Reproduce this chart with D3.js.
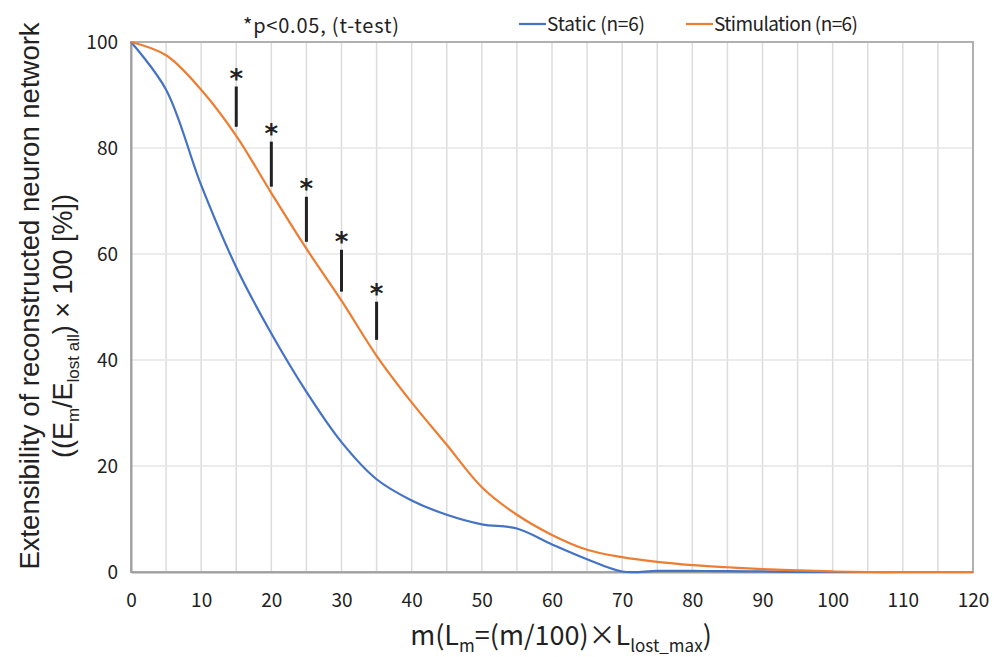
<!DOCTYPE html>
<html lang="en">
	<head>
		<meta charset="utf-8">
		<title>Extensibility chart</title>
		<script type="text/javascript" src="https://cdn.jsdelivr.net/npm/d3@7"></script>
		<style>
			body { margin: 0; background: #fff; }
			text { fill: #222; }
		</style>
	</head>
	<body>
		<script type="text/javascript">

			var w = 994;
			var h = 657;
			var margin = {left: 131, right: 21, top: 42, bottom: 85};

			// m values (x) and the two series
			var mValues = [0, 5, 10, 15, 20, 25, 30, 35, 40, 45, 50, 55, 60, 65, 70, 75, 80, 85, 90, 95, 100, 105, 110, 115, 120];
			var staticValues = [100, 91, 73, 57.5, 45, 34, 24.5, 17.5, 13.5, 10.8, 9, 8.2, 5.2, 2.4, 0.1, 0.2, 0.2, 0.15, 0.1, 0, 0, 0, 0, 0, 0];
			var stimValues = [100, 97.5, 91, 82.3, 71.5, 61, 51.2, 40.8, 32, 24, 16, 10.8, 7, 4.2, 2.8, 1.9, 1.3, 0.9, 0.55, 0.3, 0.1, 0, 0, 0, 0];

			// significance marks
			var sigM = [15, 20, 25, 30, 35];
			var sigLow = [84, 72.7, 62.3, 52.9, 43.8];
			var sigHigh = [91.6, 81.2, 70.8, 60.8, 51];

			var xTicks = d3.range(0, 121, 10);
			var xGrid = d3.range(5, 121, 5);
			var yTicks = [0, 20, 40, 60, 80, 100];

			var seriesNames = ["Static (n=6)", "Stimulation (n=6)"];
			var seriesColors = ["#4472C4", "#ED7D31"];

			var xScale = d3.scaleLinear()
						   .domain([0, 120])
						   .range([margin.left, w - margin.right]);

			var yScale = d3.scaleLinear()
						   .domain([0, 100])
						   .range([h - margin.bottom, margin.top]);

			var svg = d3.select("body")
						.append("svg")
						.attr("width", w)
						.attr("height", h);

			var font = "'Noto Sans CJK JP', 'Noto Sans', sans-serif";
			var titleFont = "'Liberation Sans', Arial, sans-serif";

			// gridlines
			svg.append("g")
			   .selectAll("line")
			   .data(xGrid)
			   .enter()
			   .append("line")
			   .attr("x1", function(d) { return xScale(d); })
			   .attr("x2", function(d) { return xScale(d); })
			   .attr("y1", yScale(0))
			   .attr("y2", yScale(100))
			   .attr("stroke", "#dcdcdc")
			   .attr("stroke-width", 1.5);

			svg.append("g")
			   .selectAll("line")
			   .data(yTicks.slice(1, 5))
			   .enter()
			   .append("line")
			   .attr("x1", xScale(0))
			   .attr("x2", xScale(120))
			   .attr("y1", function(d) { return yScale(d); })
			   .attr("y2", function(d) { return yScale(d); })
			   .attr("stroke", "#e6e6e6")
			   .attr("stroke-width", 1.5);

			// frame
			svg.append("rect")
			   .attr("x", xScale(0))
			   .attr("y", yScale(100))
			   .attr("width", xScale(120) - xScale(0))
			   .attr("height", yScale(0) - yScale(100))
			   .attr("fill", "none")
			   .attr("stroke", "#b0b0b0")
			   .attr("stroke-width", 2);

			// axes
			var xAxis = d3.axisBottom(xScale).tickValues(xTicks).tickSize(0).tickPadding(22);
			var yAxis = d3.axisLeft(yScale).tickValues(yTicks).tickSize(0).tickPadding(13);

			var gx = svg.append("g")
			   .attr("transform", "translate(0," + yScale(0) + ")")
			   .call(xAxis);
			var gy = svg.append("g")
			   .attr("transform", "translate(" + xScale(0) + ",0)")
			   .call(yAxis);

			[gx, gy].forEach(function(g) {
				g.select(".domain").attr("stroke", "#a0a0a0").attr("stroke-width", 2);
				g.selectAll("text")
				 .attr("font-family", font)
				 .attr("font-size", "19px")
				 .attr("fill", "#222");
			});

			// lines
			var line = d3.line()
						 .x(function(d) { return xScale(d[0]); })
						 .y(function(d) { return yScale(d[1]); })
						 .curve(d3.curveCatmullRom.alpha(0.5));

			var series = [staticValues, stimValues];
			series.forEach(function(vals, k) {
				svg.append("path")
				   .datum(mValues.map(function(m, i) { return [m, vals[i]]; }))
				   .attr("d", line)
				   .attr("fill", "none")
				   .attr("stroke", seriesColors[k])
				   .attr("stroke-width", 2.2);
			});

			// significance bars and stars
			svg.selectAll(".sig")
			   .data(sigM)
			   .enter()
			   .append("line")
			   .attr("class", "sig")
			   .attr("x1", function(d) { return xScale(d); })
			   .attr("x2", function(d) { return xScale(d); })
			   .attr("y1", function(d, i) { return yScale(sigLow[i]); })
			   .attr("y2", function(d, i) { return yScale(sigHigh[i]); })
			   .attr("stroke", "#222")
			   .attr("stroke-width", 3);

			svg.selectAll(".star")
			   .data(sigM)
			   .enter()
			   .append("text")
			   .attr("class", "star")
			   .attr("x", function(d) { return xScale(d); })
			   .attr("y", function(d, i) { return yScale(sigHigh[i]) + 1; })
			   .attr("text-anchor", "middle")
			   .attr("font-family", "'DejaVu Sans', sans-serif")
			   .attr("font-size", "26px")
			   .attr("font-weight", "bold")
			   .text("*");

			// note
			svg.append("text")
			   .attr("x", 321)
			   .attr("y", 33)
			   .attr("text-anchor", "middle")
			   .attr("font-family", font)
			   .attr("font-size", "20px")
			   .attr("textLength", 156)
			   .text("*p<0.05, (t-test)");

			// legend
			var legendX = [519, 686];
			var legendW = [98, 144];
			seriesNames.forEach(function(name, k) {
				svg.append("line")
				   .attr("x1", legendX[k])
				   .attr("x2", legendX[k] + 27)
				   .attr("y1", 24)
				   .attr("y2", 24)
				   .attr("stroke", seriesColors[k])
				   .attr("stroke-width", 2.2);
				svg.append("text")
				   .attr("x", legendX[k] + 28)
				   .attr("y", 31)
				   .attr("font-family", font)
				   .attr("font-size", "19px")
				   .attr("textLength", legendW[k])
				   .text(name);
			});

			// x title
			var xt = svg.append("text")
			   .attr("x", 561)
			   .attr("y", 645)
			   .attr("text-anchor", "middle")
			   .attr("font-family", font)
			   .attr("font-size", "27px");
			xt.append("tspan").text("m(L");
			xt.append("tspan").attr("font-size", "17px").attr("dy", 7).text("m");
			xt.append("tspan").attr("dy", -7).text("=(m/100)×L");
			xt.append("tspan").attr("font-size", "17px").attr("dy", 7).text("lost_max");
			xt.append("tspan").attr("dy", -7).text(")");

			// y title
			svg.append("text")
			   .attr("transform", "translate(39," + 296 + ") rotate(-90)")
			   .attr("text-anchor", "middle")
			   .attr("font-family", titleFont)
			   .attr("font-size", "27.5px")
			   .text("Extensibility of reconstructed neuron network");

			var yt = svg.append("text")
			   .attr("transform", "translate(72," + 326 + ") rotate(-90)")
			   .attr("text-anchor", "middle")
			   .attr("font-family", titleFont)
			   .attr("font-size", "27px");
			yt.append("tspan").text("((E");
			yt.append("tspan").attr("font-size", "17px").attr("dy", 7).text("m");
			yt.append("tspan").attr("dy", -7).text("/E");
			yt.append("tspan").attr("font-size", "17px").attr("dy", 7).text("lost all");
			yt.append("tspan").attr("dy", -7).text(") × 100 [%])");
		</script>
	</body>
</html>
